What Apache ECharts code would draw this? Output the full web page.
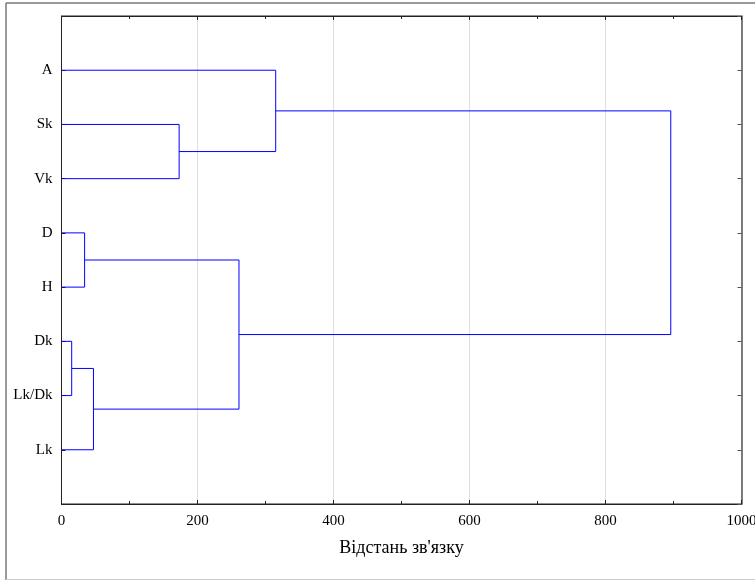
<!DOCTYPE html>
<html><head><meta charset="utf-8">
<script src="https://cdn.jsdelivr.net/npm/echarts@6/dist/echarts.min.js"></script>
<style>html,body{margin:0;padding:0;background:#fff;overflow:hidden}#c{width:755px;height:581px}</style>
</head><body><div id="c"></div>
<script>
// Leaves (top to bottom)
const leaves = ['A', 'Sk', 'Vk', 'D', 'H', 'Dk', 'Lk/Dk', 'Lk'];
// Linkage: cluster id = leaves.length + merge index
const linkLeft  = [1, 0, 3, 5, 11, 10, 9];
const linkRight = [2, 8, 4, 6, 7, 12, 13];
const linkDist  = [173, 315, 34, 15, 47, 261, 896];
const xTicks = [0, 200, 400, 600, 800, 1000];
const xTitle = "Відстань зв'язку";

const nodeY = leaves.map((_, i) => i + 1);
const nodeH = leaves.map(() => 0);
const series = [];
for (let k = 0; k < linkDist.length; k++) {
  const a = linkLeft[k], b = linkRight[k], d = linkDist[k];
  series.push({
    type: 'line', symbol: 'none', silent: true, animation: false,
    lineStyle: { color: '#0000ff', width: 1 },
    data: [[nodeH[a], nodeY[a]], [d, nodeY[a]], [d, nodeY[b]], [nodeH[b], nodeY[b]]]
  });
  nodeY.push((nodeY[a] + nodeY[b]) / 2);
  nodeH.push(d);
}

const font = '"Liberation Serif", "Times New Roman", serif';
const chart = echarts.init(document.getElementById('c'), null, { renderer: 'canvas' });
const tickStyle = { color: '#222', width: 1 };
chart.setOption({
  animation: false,
  grid: { left: 61.5, top: 16, width: 680, height: 488, show: true, borderColor: '#222', borderWidth: 1,
          backgroundColor: 'transparent', containLabel: false, outerBoundsMode: 'none' },
  graphic: [
    { type: 'line', shape: { x1: 6, y1: 3, x2: 760, y2: 3 }, style: { stroke: '#777', lineWidth: 1.5 } },
    { type: 'line', shape: { x1: 6, y1: 3, x2: 6, y2: 580 }, style: { stroke: '#777', lineWidth: 1.5 } },
    { type: 'line', shape: { x1: 6, y1: 579.5, x2: 760, y2: 579.5 }, style: { stroke: '#ccc', lineWidth: 1 } }
  ],
  xAxis: [
    {
      type: 'value', position: 'bottom', min: xTicks[0], max: xTicks[xTicks.length - 1], interval: 200,
      name: xTitle, nameLocation: 'middle', nameGap: 35,
      nameTextStyle: { fontFamily: font, fontSize: 18, color: '#000' },
      axisLine: { show: true, onZero: false, lineStyle: tickStyle },
      axisTick: { show: true, inside: true, length: 4, lineStyle: tickStyle },
      minorTick: { show: true, splitNumber: 2, length: 3, lineStyle: tickStyle },
      axisLabel: { fontFamily: font, fontSize: 15, color: '#000', margin: 10, formatter: v => String(v) },
      splitLine: { show: true, lineStyle: { color: '#dedede', width: 1 } }
    },
    {
      type: 'value', position: 'top', min: 0, max: 1000, interval: 200,
      axisLine: { show: true, onZero: false, lineStyle: tickStyle },
      axisTick: { show: true, inside: true, length: 4, lineStyle: tickStyle },
      minorTick: { show: true, splitNumber: 2, length: 3, lineStyle: tickStyle },
      axisLabel: { show: false }, splitLine: { show: false }
    }
  ],
  yAxis: [
    {
      type: 'value', position: 'left', inverse: true, min: 0, max: leaves.length + 1, interval: 1,
      axisLine: { show: true, onZero: false, lineStyle: tickStyle },
      axisTick: { show: true, inside: true, length: 4, lineStyle: tickStyle },
      axisLabel: {
        fontFamily: font, fontSize: 15, color: '#000', margin: 9,
        formatter: v => (v >= 1 && v <= leaves.length) ? leaves[v - 1] : ''
      },
      splitLine: { show: false }
    },
    {
      type: 'value', position: 'right', inverse: true, min: 0, max: leaves.length + 1, interval: 1,
      axisLine: { show: true, onZero: false, lineStyle: { color: '#555', width: 1.5 } },
      axisTick: { show: true, inside: true, length: 4, lineStyle: { color: '#555' } },
      axisLabel: { show: false }, splitLine: { show: false }
    }
  ],
  series: series
});
</script></body></html>
